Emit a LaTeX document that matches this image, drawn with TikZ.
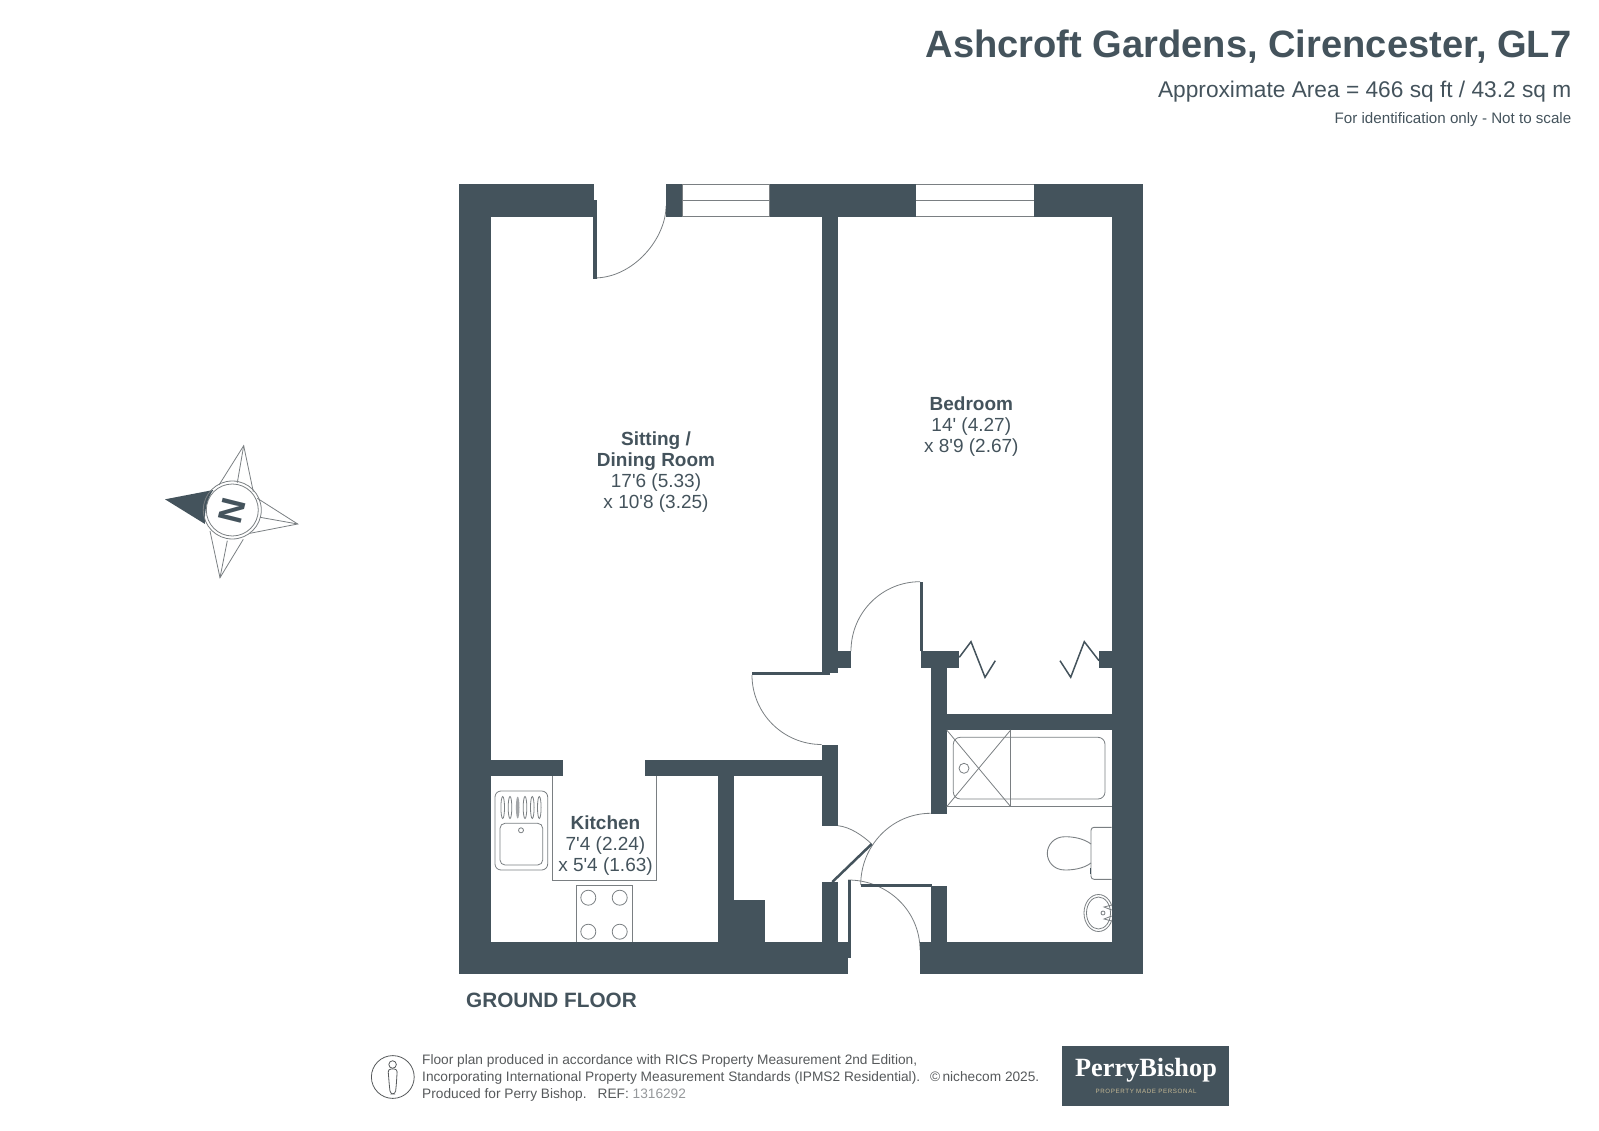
\documentclass[tikz,border=0pt]{standalone}
\usepackage{fontspec}
\setmainfont{Liberation Sans}[Ligatures=TeXOff]
\newfontfamily\logofont{Liberation Serif}
\newfontfamily\tagfont[LetterSpace=10]{Liberation Sans}
\definecolor{wallc}{HTML}{44535C}
\definecolor{linec}{HTML}{7A7F82}
\definecolor{foot}{HTML}{56595B}
\definecolor{tagc}{HTML}{C4B894}
\newcommand{\fsz}[1]{\fontsize{#1}{#1}\selectfont}
\tikzset{
  wall/.style={fill=wallc,draw=none},
  thin line/.style={draw=linec,line width=0.8pt},
  fit line/.style={draw=linec,line width=0.9pt},
  room/.style={text=wallc,inner sep=0pt,anchor=base,font=\fsz{19}},
  roomhead/.style={room,font=\bfseries\fsz{19}},
  foottext/.style={text=foot,inner sep=0pt,anchor=base west,font=\fsz{13.7}},
  zig/.style={draw=wallc,line width=1.5pt,line join=miter}
}
\begin{document}
\begin{tikzpicture}[x=1pt,y=-1pt]
\useasboundingbox (0,0) rectangle (1599,1131);
% windows
\draw[thin line,fill=white] (682,184.5) rectangle (769.7,216.5);
\draw[thin line] (682,200.7) -- (769.7,200.7);
\draw[thin line,fill=white] (915.8,184.5) rectangle (1034,216.5);
\draw[thin line] (915.8,200.7) -- (1034,200.7);
% door swings
\draw[thin line] (594,278) .. controls (633.8,278) and (666,238.2) .. (666,206);
\draw[thin line] (851,651) .. controls (851,612.7) and (881.9,581.7) .. (920,581.7);
\draw[thin line] (752,675) .. controls (752,713.4) and (783.2,744.5) .. (821.7,744.5);
\draw[thin line] (860.7,885) .. controls (860.7,845.4) and (892,813.3) .. (930.7,813.3);
\draw[thin line] (848,880) .. controls (887.8,880) and (920,911) .. (920,950);
\draw[thin line] (838,825.7) .. controls (850,827) and (862,835) .. (871.7,844);
% walls
\fill[wall] (458.6,184) rectangle (594,216.7);
\fill[wall] (666,184) rectangle (682,216.7);
\fill[wall] (769.7,184) rectangle (915.8,216.7);
\fill[wall] (1034,184) rectangle (1143.3,216.7);
\fill[wall] (458.6,184) rectangle (490.7,974);
\fill[wall] (1111.7,184) rectangle (1143.3,974);
\fill[wall] (458.6,941.7) rectangle (848.3,974);
\fill[wall] (838,941.7) rectangle (850.7,958.3);
\fill[wall] (920,941.7) rectangle (1143.3,974);
\fill[wall] (821.7,216) rectangle (838,672.7);
\fill[wall] (838,651) rectangle (851,667.7);
\fill[wall] (920.7,651) rectangle (959.3,667.7);
\fill[wall] (1099,651) rectangle (1112,667.7);
\fill[wall] (930.7,667) rectangle (946.7,814.3);
\fill[wall] (946,714) rectangle (1112,730);
\fill[wall] (821.7,744.7) rectangle (838,825.7);
\fill[wall] (490,760) rectangle (563,776);
\fill[wall] (645,760) rectangle (822,776);
\fill[wall] (718,776) rectangle (734,942);
\fill[wall] (734,900.3) rectangle (765.3,942);
\fill[wall] (821.7,882.3) rectangle (838,942);
\fill[wall] (930.7,886) rectangle (946.7,942);
% door leaves
\fill[wall] (593.3,200) rectangle (597,278.7);
\fill[wall] (751.7,672) rectangle (830,675);
\fill[wall] (920,581.7) rectangle (923,651);
\fill[wall] (860.7,884.3) rectangle (932,886.7);
\fill[wall] (847.7,880) rectangle (851,942);
\draw[wallc,line width=2.5pt] (832.3,882) -- (871.7,844);
% wardrobe bifolds
\draw[zig] (959.3,657.3) -- (971,641.7) -- (985,677.3) -- (995.3,660.7);
\draw[zig] (1099,660.7) -- (1084.3,641.7) -- (1070.7,677.3) -- (1060,660.7);
% bath
\draw[fit line] (946.7,806.7) -- (1111.7,806.7);
\draw[fit line] (1010.7,730) -- (1010.7,806.7);
\draw[thin line] (946.7,730) -- (1010.7,806.7);
\draw[thin line] (1010.7,730) -- (946.7,806.7);
\draw[thin line,rounded corners=7pt] (953.3,737.3) rectangle (1105,799);
\draw[thin line] (964,768.3) circle[radius=5];
% wc
\draw[fit line,rounded corners=3pt] (1111.7,827.3) -- (1091,827.3) -- (1091,879.3) -- (1111.7,879.3);
\draw[fit line] (1091,844) .. controls (1083,838) and (1072,836.7) .. (1065,836.7) .. controls (1054,836.7) and (1047.3,845) .. (1047.3,853.3) .. controls (1047.3,862) and (1054,870) .. (1065,870) .. controls (1072,870) and (1083,869) .. (1091,863);
\draw[wallc,line width=1pt] (1090,868) -- (1090,874);
% basin
\begin{scope}
\clip (1070,885) rectangle (1111.7,940);
\draw[thin line] (1098.5,913) ellipse[x radius=14.5,y radius=18.5];
\draw[thin line] (1098.5,913) ellipse[x radius=12,y radius=16];
\end{scope}
\draw[thin line] (1103,913) circle[radius=2];
\draw[thin line] (1111.7,905) -- (1104,907) -- (1111.7,910);
\draw[thin line] (1111.7,916) -- (1104,919) -- (1111.7,921);
% kitchen worktop
\draw[fit line] (552.3,776) -- (552.3,880) -- (656.7,880) -- (656.7,776);
% hob
\draw[fit line] (576,941.7) -- (576,885.3) -- (632.7,885.3) -- (632.7,941.7);
\foreach \hx in {588.3,619.7} \foreach \hy in {897.7,931.7} \draw[thin line] (\hx,\hy) circle[radius=7.5];
% sink
\draw[thin line,rounded corners=6pt] (495,791) rectangle (547.7,870);
\draw[thin line,rounded corners=5pt] (500,823.3) rectangle (542.7,865);
\draw[thin line] (521,830.3) circle[radius=2.5];
\foreach \sx in {502.7,510,525,532.3,539.3} \draw[thin line] (\sx,807.5) ellipse[x radius=1.8,y radius=11];
\fill[linec!70] (517.7,807.5) ellipse[x radius=1.8,y radius=11];
% compass
\draw[thin line] (219,485) -- (243.7,445.7) -- (253.3,491.7);
\draw[thin line] (243.7,445.7) -- (237.3,482.7);
\draw[thin line] (257.3,498.3) -- (297.7,524) -- (250,533.3);
\draw[thin line] (297.7,524) -- (260,517.3);
\draw[thin line] (243.3,539.3) -- (220,577.7) -- (210,531);
\draw[thin line] (220,577.7) -- (227.3,540.7);
\fill[wall] (165,499.3) -- (213.3,490) .. controls (208,497) and (204,510) .. (205,524) -- cycle;
\draw[thin line] (232.3,510) circle[radius=29];
\draw[thin line] (232.3,510) circle[radius=26];
\node[text=wallc,inner sep=0pt,rotate=76,font=\bfseries\fsz{34}] (north) at (232.5,511) {N};
% titles
\node[text=wallc,inner sep=0pt,anchor=base east,font=\bfseries\fsz{38.1}] (title) at (1571.5,58) {Ashcroft Gardens, Cirencester, GL7};
\node[text=wallc,inner sep=0pt,anchor=base east,font=\fsz{22.7}] (area) at (1571.5,98) {Approximate Area = 466 sq ft / 43.2 sq m};
\node[text=wallc,inner sep=0pt,anchor=base east,font=\fsz{15.15}] (ident) at (1571.5,124) {For identification only - Not to scale};
% rooms
\node[roomhead] (s1) at (656,446) {Sitting /};
\node[roomhead] (s2) at (656,466.9) {Dining Room};
\node[room] (s3) at (656,487.8) {17'6 (5.33)};
\node[room] (s4) at (656,508.7) {x 10'8 (3.25)};
\node[roomhead] (b1) at (971.3,411) {Bedroom};
\node[room] (b2) at (971.3,431.9) {14' (4.27)};
\node[room] (b3) at (971.3,452.8) {x 8'9 (2.67)};
\node[roomhead] (k1) at (605.5,829) {Kitchen};
\node[room] (k2) at (605.5,850) {7'4 (2.24)};
\node[room] (k3) at (605.5,871) {x 5'4 (1.63)};
\node[text=wallc,inner sep=0pt,anchor=base west,font=\bfseries\fsz{20.75}] (ground) at (466,1007) {GROUND FLOOR};
% footer
\draw[draw=foot,line width=0.8pt] (392.8,1077) circle[radius=21.4];
\node[draw=foot,line width=0.8pt,circle,inner sep=0pt,minimum size=7.5pt] (head) at (392.6,1064.5) {};
\draw[foot,line width=0.8pt,rounded corners=3pt] (388,1069) -- (397.3,1069) -- (396.3,1085) -- (395.3,1094) -- (390.3,1094) -- (389.3,1085) -- cycle;
\node[foottext] (l1) at (422,1064) {Floor plan produced in accordance with RICS Property Measurement 2nd Edition,};
\node[foottext] (l2) at (422,1081) {Incorporating International Property Measurement Standards (IPMS2 Residential).};
\node[foottext] (l3) at (422,1098) {Produced for Perry Bishop.\hspace{0.8em}REF: \textcolor{linec!80}{1316292}};
\node[foottext] (l4) at (930,1081) {\copyright\,nichecom 2025.};
% logo
\fill[wall] (1062.3,1046) rectangle (1229,1106);
\node[text=white,inner sep=0pt,font=\logofont\bfseries\fsz{26.3}] (logo) at (1146,1070) {PerryBishop};
\node[text=tagc,inner sep=0pt,font=\tagfont\fsz{6.2}] (tag) at (1146,1091.7) {PROPERTY MADE PERSONAL};
\end{tikzpicture}
\end{document}
